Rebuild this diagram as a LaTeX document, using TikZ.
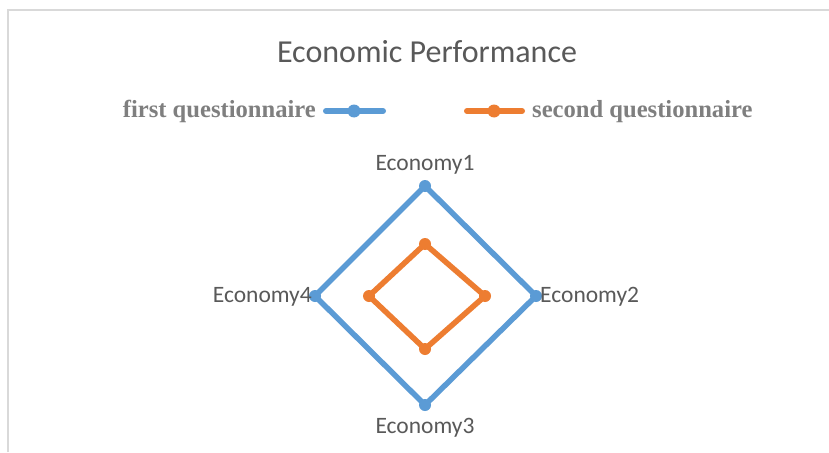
\documentclass[tikz,border=0pt]{standalone}
\usepackage{fontspec}
\setmainfont{Carlito}
\newfontfamily\legfont{Liberation Serif}
\definecolor{cblue}{HTML}{5B9BD5}
\definecolor{corange}{HTML}{ED7D31}
\definecolor{ctext}{HTML}{595959}
\definecolor{clegend}{HTML}{7F7F7F}
\definecolor{cframe}{HTML}{D9D9D9}
\begin{document}
\begin{tikzpicture}[x=1pt,y=-1pt,
  series/.style={line width=5.5pt, line join=round},
  dotb/.style={circle, fill=cblue, inner sep=0pt, minimum size=12pt},
  doto/.style={circle, fill=corange, inner sep=0pt, minimum size=12pt},
  axlabel/.style={text=ctext, font=\fontsize{23.5}{26}\selectfont, inner sep=0pt},
  legtext/.style={text=clegend, font=\legfont\bfseries\fontsize{24.6}{28}\selectfont, inner sep=0pt}]
\useasboundingbox (0,0) rectangle (829,452);
\fill[white] (0,0) rectangle (829,452);
\draw[cframe, line width=1.5pt] (8,452) -- (8,10) -- (829,10);
% title
\node[text=ctext, font=\fontsize{32}{36}\selectfont, inner sep=0pt] (title) at (427,52) {Economic Performance};
% legend
\node[legtext, anchor=base east] (leg1) at (316,117) {first questionnaire};
\coordinate (l1a) at (326,111); \coordinate (l1b) at (383,111);
\draw[cblue, line width=6pt, line cap=round] (l1a) -- (l1b);
\node[dotb, minimum size=13pt] (l1d) at (354,111) {};
\coordinate (l2a) at (467,111); \coordinate (l2b) at (522,111);
\draw[corange, line width=6pt, line cap=round] (l2a) -- (l2b);
\node[doto, minimum size=13pt] (l2d) at (494,111) {};
\node[legtext, anchor=base west] (leg2) at (532,117) {second questionnaire};
% blue series
\coordinate (b1) at (425,186);
\coordinate (b2) at (536,296);
\coordinate (b3) at (425,405);
\coordinate (b4) at (315,296);
\draw[cblue, series] (b1) -- (b2) -- (b3) -- (b4) -- cycle;
% orange series
\coordinate (o1) at (425,244);
\coordinate (o2) at (485,296);
\coordinate (o3) at (425,349);
\coordinate (o4) at (369,296);
\draw[corange, series] (o1) -- (o2) -- (o3) -- (o4) -- cycle;
\foreach \i in {1,2,3,4} {
  \node[dotb] (db\i) at (b\i) {};
  \node[doto] (do\i) at (o\i) {};
}
% axis labels
\node[axlabel] (e1) at (425,165) {Economy1};
\node[axlabel, anchor=west] (e2) at (540,297) {Economy2};
\node[axlabel] (e3) at (425,428) {Economy3};
\node[axlabel, anchor=east] (e4) at (312,297) {Economy4};
\end{tikzpicture}
\end{document}
